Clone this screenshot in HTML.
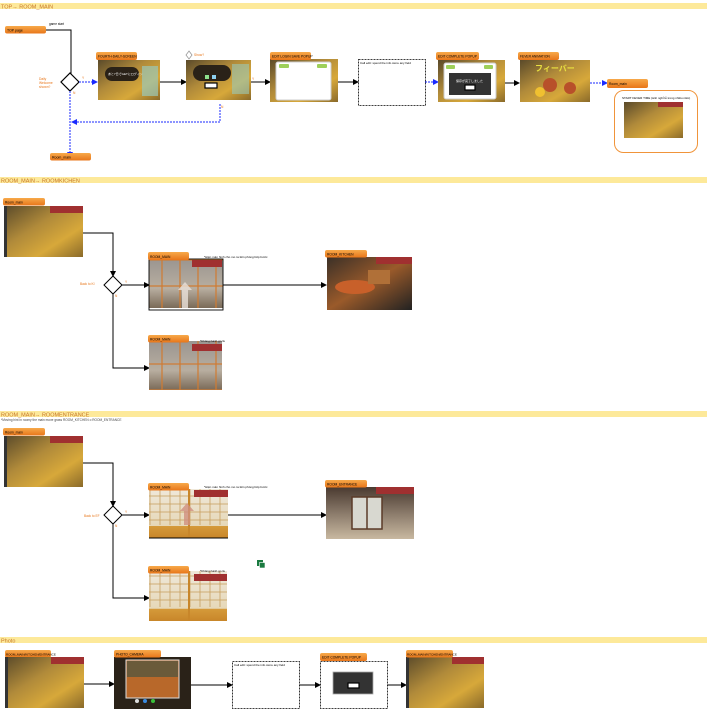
<!DOCTYPE html>
<html><head><meta charset="utf-8"><style>
html,body{margin:0;padding:0;background:#fff;width:707px;height:728px;overflow:hidden}
svg{display:block;font-family:"Liberation Sans","Noto Sans CJK JP",sans-serif}
</style></head><body>
<svg width="707" height="728" viewBox="0 0 707 728" xmlns="http://www.w3.org/2000/svg">
<defs>
<linearGradient id="lbl" x1="0" y1="0" x2="0" y2="1"><stop offset="0" stop-color="#f7a94a"/><stop offset="1" stop-color="#e8761a"/></linearGradient>
<linearGradient id="room" x1="0" y1="0" x2="1" y2="1"><stop offset="0" stop-color="#5a4a2a"/><stop offset="0.4" stop-color="#b08a3a"/><stop offset="0.7" stop-color="#d7a83a"/><stop offset="1" stop-color="#8a6a2a"/></linearGradient>
<linearGradient id="shoji" x1="0" y1="0" x2="0" y2="1"><stop offset="0" stop-color="#9a9590"/><stop offset="0.6" stop-color="#b8aea0"/><stop offset="1" stop-color="#7a6a58"/></linearGradient>
<linearGradient id="kit" x1="0" y1="0" x2="1" y2="1"><stop offset="0" stop-color="#3a3028"/><stop offset="0.5" stop-color="#9a5a2a"/><stop offset="1" stop-color="#222"/></linearGradient>
<linearGradient id="ent" x1="0" y1="0" x2="0" y2="1"><stop offset="0" stop-color="#4a3a30"/><stop offset="0.5" stop-color="#8a7a6a"/><stop offset="1" stop-color="#c8b8a0"/></linearGradient>
<linearGradient id="paper" x1="0" y1="0" x2="0" y2="1"><stop offset="0" stop-color="#efe8da"/><stop offset="0.75" stop-color="#e6d8b8"/><stop offset="0.76" stop-color="#d59a3a"/><stop offset="1" stop-color="#c8862a"/></linearGradient>
<pattern id="grid" width="10" height="8" patternUnits="userSpaceOnUse"><rect width="10" height="8" fill="none" stroke="#c8a060" stroke-width="0.8"/></pattern>
<pattern id="grid2" width="18" height="26" patternUnits="userSpaceOnUse"><rect width="18" height="26" fill="none" stroke="#d07a30" stroke-width="1.2"/></pattern>
<marker id="ab" markerWidth="6" markerHeight="6" refX="5" refY="3" orient="auto"><path d="M0,0L6,3L0,6z" fill="#000"/></marker>
<marker id="au" markerWidth="6" markerHeight="6" refX="5" refY="3" orient="auto"><path d="M0,0L6,3L0,6z" fill="#1a2aff"/></marker>
</defs>
<g font-size="4">
<!-- section bars -->
<rect x="0" y="3" width="707" height="6" fill="#fde99a"/><text x="1" y="8.5" font-size="5.5" fill="#c8782a">TOP→ ROOM_MAIN</text>
<rect x="0" y="177" width="707" height="6" fill="#fde99a"/><text x="1" y="182.5" font-size="5.5" fill="#c8782a">ROOM_MAIN→ ROOMKICHEN</text>
<rect x="0" y="411" width="707" height="6" fill="#fde99a"/><text x="1" y="416.5" font-size="5.5" fill="#c8782a">ROOM_MAIN→ ROOMENTRANCE</text>
<text x="1" y="421" font-size="3.2" fill="#444">*Moving hint in roomy the main move grass ROOM_KITCHEN o ROOM_ENTRANCE</text>
<rect x="0" y="637" width="707" height="6" fill="#fde99a"/><text x="1" y="642.5" font-size="5.5" fill="#c8782a">Photo</text>

<!-- ===== Section 1 ===== -->
<rect x="5" y="26" width="41" height="7.5" rx="2" fill="url(#lbl)"/><text x="7" y="31.5" font-size="3.5">TOP page</text>
<text x="49" y="25" font-size="3.2">game start</text>
<path d="M46,30H71V74" fill="none" stroke="#000" stroke-width="1"/>
<polygon points="70,73 79,82 70,91 61,82" fill="#fff" stroke="#000" stroke-width="1.2"/>
<text x="39" y="80" font-size="3.3" fill="#e8761a">Daily</text><text x="39" y="84" font-size="3.3" fill="#e8761a">Welcome</text><text x="39" y="88" font-size="3.3" fill="#e8761a">shown?</text>
<text x="82" y="79" font-size="3.3" fill="#e8761a">Y</text><text x="73" y="94" font-size="3.3" fill="#e8761a">N</text>
<path d="M79,82H97" stroke="#1a2aff" stroke-dasharray="2,1" marker-end="url(#au)"/>
<path d="M70,91V157" stroke="#1a2aff" stroke-dasharray="2,1" marker-end="url(#au)"/>
<path d="M220,104V122H72" fill="none" stroke="#1a2aff" stroke-dasharray="2,1" marker-end="url(#au)"/>
<text x="221" y="108" font-size="3.3" fill="#e8761a">N</text>
<rect x="50" y="153" width="41" height="7.5" rx="2" fill="url(#lbl)"/><text x="52" y="158.5" font-size="3.5">Room_main</text>

<rect x="98" y="60" width="62" height="40" fill="url(#room)"/>
<rect x="105" y="67" width="34" height="14" rx="7" fill="#2a2218"/><text x="108" y="75" font-size="3" fill="#fff">あと7日でGETにログイン</text>
<rect x="142" y="66" width="16" height="30" fill="#9ac8b8" opacity="0.7"/>
<rect x="96" y="52" width="41" height="8" rx="2" fill="url(#lbl)"/><text x="98" y="57.5" font-size="3.3">FOURTH-DAILY-SCREEN</text>
<path d="M160,82H186" stroke="#000" marker-end="url(#ab)"/>

<rect x="186" y="60" width="65" height="40" fill="url(#room)"/>
<rect x="193" y="65" width="38" height="16" rx="8" fill="#2a2218"/>
<rect x="205" y="75" width="4" height="4" fill="#8de08d"/><rect x="212" y="75" width="4" height="4" fill="#8dd0f0"/>
<rect x="205" y="83" width="12" height="5" fill="#fff" stroke="#000" stroke-width="1.2"/>
<rect x="232" y="64" width="17" height="30" fill="#9ac8b8" opacity="0.6"/>
<polygon points="189,51 192,55 189,59 186,55" fill="#fff" stroke="#999" stroke-width="0.8"/><text x="194" y="56" font-size="3.3" fill="#e8761a">Show?</text>
<text x="252" y="80" font-size="3.3" fill="#e8761a">Y</text>
<path d="M251,82H270" stroke="#000" marker-end="url(#ab)"/>

<rect x="270" y="59" width="68" height="43" fill="url(#room)"/>
<rect x="276" y="62" width="55" height="38" rx="2" fill="#fff" stroke="#ccc"/>
<rect x="279" y="64" width="10" height="4" rx="1" fill="#9ed05a"/><rect x="317" y="64" width="10" height="4" rx="1" fill="#9ed05a"/>
<rect x="270" y="52" width="41" height="8" rx="2" fill="url(#lbl)"/><text x="272" y="57.5" font-size="3.3">EDIT LOGIN SAVE POPUP</text>
<path d="M338,82H358" stroke="#000" marker-end="url(#ab)"/>

<rect x="358.5" y="59.5" width="67" height="46" fill="#fff" stroke="#000" stroke-width="0.8" stroke-dasharray="2,1"/>
<text x="360" y="64" font-size="3">Call edit: spend the info store any field</text>
<path d="M425,82H438" stroke="#1a2aff" stroke-dasharray="2,1" marker-end="url(#au)"/>

<rect x="438" y="60" width="67" height="42" fill="url(#room)"/>
<rect x="444" y="63" width="52" height="36" rx="2" fill="#fff" stroke="#ccc"/>
<rect x="446" y="65" width="9" height="4" rx="1" fill="#9ed05a"/><rect x="484" y="65" width="9" height="4" rx="1" fill="#9ed05a"/>
<rect x="449" y="73" width="42" height="22" fill="#333"/><text x="456" y="82" font-size="3" fill="#fff">保存が完了しました</text>
<rect x="465" y="85" width="10" height="5" fill="#fff" stroke="#000" stroke-width="1.2"/>
<rect x="436" y="52" width="43" height="8" rx="2" fill="url(#lbl)"/><text x="438" y="57.5" font-size="3.3">EDIT COMPLETE POPUP</text>
<path d="M505,83H519" stroke="#000" marker-end="url(#ab)"/>

<rect x="520" y="60" width="70" height="42" fill="url(#room)"/>
<text x="535" y="71" font-size="8" fill="#e8e040" font-weight="bold">フィーバー</text>
<circle cx="550" cy="85" r="7" fill="#b8502a"/><circle cx="570" cy="88" r="6" fill="#b8502a"/><circle cx="540" cy="92" r="5" fill="#f0c030"/>
<rect x="518" y="52" width="41" height="8" rx="2" fill="url(#lbl)"/><text x="520" y="57.5" font-size="3.3">FEVER ANIMATION</text>
<path d="M590,83H607" stroke="#1a2aff" stroke-dasharray="2,1" marker-end="url(#au)"/>
<rect x="607" y="79" width="41" height="9" rx="2" fill="url(#lbl)"/><text x="609" y="85" font-size="3.3">Room_main</text>
<rect x="614.5" y="90.5" width="83" height="62" rx="9" fill="#fff" stroke="#f0943a" stroke-width="1"/>
<text x="622" y="99" font-size="3">START FEVER TIME (ảnh nghỉ lễ trong nhiều năm)</text>
<rect x="624" y="102" width="59" height="36" fill="url(#room)"/><rect x="658" y="102" width="25" height="5" fill="#a03030"/>

<!-- ===== Section 2 ===== -->
<rect x="3" y="198" width="42" height="7.5" rx="2" fill="url(#lbl)"/><text x="5" y="203.5" font-size="3.3">Room_main</text>
<rect x="4" y="206" width="79" height="51" fill="url(#room)"/><rect x="50" y="206" width="33" height="7" fill="#a03030"/><rect x="4" y="206" width="3" height="51" fill="#333"/>
<path d="M83,233H113V276" fill="none" stroke="#000" marker-end="url(#ab)"/>
<polygon points="113,276 122,285 113,294 104,285" fill="#fff" stroke="#000" stroke-width="1"/>
<text x="80" y="285" font-size="3.2" fill="#e8761a">Back to KI</text>
<text x="125" y="283" font-size="3.2" fill="#e8761a">Y</text><text x="115" y="297" font-size="3.2" fill="#e8761a">N</text>
<path d="M122,285H149" stroke="#000" marker-end="url(#ab)"/>
<path d="M113,294V368H149" fill="none" stroke="#000" marker-end="url(#ab)"/>
<rect x="149" y="259" width="74" height="49" fill="url(#shoji)"/><rect x="149" y="259" width="74" height="49" fill="url(#grid2)"/>
<rect x="192" y="260" width="30" height="7" fill="#a03030"/>
<polygon points="185,282 192,290 188,290 188,308 182,308 182,290 178,290" fill="#e8e0d8" opacity="0.8"/>
<rect x="149" y="259" width="74" height="51" fill="none" stroke="#000" stroke-width="0.9"/>
<rect x="148" y="252" width="41" height="8" rx="2" fill="url(#lbl)"/><text x="150" y="258" font-size="3.3">ROOM_MAIN</text>
<text x="204" y="258" font-size="3">*Hiện màn hình cho mo ra tiến phòng bếp bước</text>
<path d="M223,285H326" stroke="#000" marker-end="url(#ab)"/>
<rect x="327" y="257" width="85" height="53" fill="url(#kit)"/><rect x="376" y="257" width="36" height="7" fill="#a03030"/>
<ellipse cx="355" cy="287" rx="20" ry="7" fill="#c8602a"/><rect x="368" y="270" width="22" height="14" fill="#b07038"/>
<rect x="325" y="250" width="42" height="7.5" rx="2" fill="url(#lbl)"/><text x="327" y="255.5" font-size="3.3">ROOM_KITCHEN</text>
<rect x="149" y="341" width="73" height="49" fill="url(#shoji)"/><rect x="149" y="341" width="73" height="49" fill="url(#grid2)"/><rect x="192" y="344" width="30" height="7" fill="#a03030"/>
<rect x="148" y="335" width="41" height="7.5" rx="2" fill="url(#lbl)"/><text x="150" y="340.5" font-size="3.3">ROOM_MAIN</text>
<text x="200" y="342" font-size="3">*Không hành gì cả</text>

<!-- ===== Section 3 ===== -->
<rect x="3" y="428" width="42" height="7.5" rx="2" fill="url(#lbl)"/><text x="5" y="433.5" font-size="3.3">Room_main</text>
<rect x="4" y="436" width="79" height="51" fill="url(#room)"/><rect x="50" y="436" width="33" height="7" fill="#a03030"/><rect x="4" y="436" width="3" height="51" fill="#333"/>
<path d="M83,463H113V506" fill="none" stroke="#000" marker-end="url(#ab)"/>
<polygon points="113,506 122,515 113,524 104,515" fill="#fff" stroke="#000" stroke-width="1"/>
<text x="84" y="517" font-size="3.2" fill="#e8761a">Back to EF</text>
<text x="125" y="513" font-size="3.2" fill="#e8761a">Y</text><text x="115" y="527" font-size="3.2" fill="#e8761a">N</text>
<path d="M122,515H149" stroke="#000" marker-end="url(#ab)"/>
<path d="M113,524V598H149" fill="none" stroke="#000" marker-end="url(#ab)"/>
<rect x="149" y="489" width="79" height="49" fill="url(#paper)"/><rect x="149" y="489" width="79" height="36" fill="url(#grid)"/>
<rect x="188" y="489" width="2" height="49" fill="#c8862a"/><rect x="194" y="490" width="34" height="7" fill="#a03030"/>
<polygon points="187,503 194,511 190,511 190,525 184,525 184,511 180,511" fill="#d09080" opacity="0.8"/>
<path d="M149,538H228" stroke="#000"/>
<rect x="148" y="483" width="41" height="7.5" rx="2" fill="url(#lbl)"/><text x="150" y="488.5" font-size="3.3">ROOM_MAIN</text>
<text x="204" y="488" font-size="3">*Hiện màn hình cho mo ra tiến phòng bếp bước</text>
<path d="M228,515H326" stroke="#000" marker-end="url(#ab)"/>
<rect x="326" y="487" width="88" height="52" fill="url(#ent)"/><rect x="376" y="487" width="38" height="7" fill="#a03030"/>
<rect x="352" y="497" width="30" height="32" fill="#d8d8d0" stroke="#5a3a28" stroke-width="1.5"/><path d="M367,497V529" stroke="#5a3a28" stroke-width="1.5"/>
<rect x="325" y="480" width="42" height="7.5" rx="2" fill="url(#lbl)"/><text x="327" y="485.5" font-size="3.3">ROOM_ENTRANCE</text>
<rect x="149" y="571" width="78" height="50" fill="url(#paper)"/><rect x="149" y="571" width="78" height="36" fill="url(#grid)"/><rect x="188" y="571" width="2" height="50" fill="#c8862a"/><rect x="194" y="574" width="33" height="7" fill="#a03030"/>
<rect x="148" y="566" width="41" height="7.5" rx="2" fill="url(#lbl)"/><text x="150" y="571.5" font-size="3.3">ROOM_MAIN</text>
<text x="200" y="572" font-size="3">*Không hành gì cả</text>
<rect x="257" y="560" width="6" height="6" fill="#1a7a40"/><rect x="259.5" y="562.5" width="5.5" height="5.5" fill="#1a7a40" stroke="#fff" stroke-width="0.6"/>

<!-- ===== Section 4 ===== -->
<rect x="5" y="650" width="46" height="7.5" rx="2" fill="url(#lbl)"/><text x="6" y="655.5" font-size="3">ROOM_MAIN/KITCHEN/ENTRANCE</text>
<rect x="5" y="657" width="79" height="51" fill="url(#room)"/><rect x="51" y="657" width="33" height="7" fill="#a03030"/><rect x="5" y="657" width="3" height="51" fill="#333"/>
<path d="M84,684H114" stroke="#000" marker-end="url(#ab)"/>
<rect x="114" y="657" width="77" height="52" fill="#2a2218"/>
<rect x="126" y="660" width="53" height="38" fill="#b8682a" stroke="#ddd" stroke-width="1"/><rect x="127" y="661" width="51" height="16" fill="#6a5a3a"/>
<circle cx="137" cy="701" r="2" fill="#ddd"/><circle cx="145" cy="701" r="2" fill="#3a8ae0"/><circle cx="153" cy="701" r="2" fill="#3ac03a"/>
<rect x="114" y="650" width="47" height="7.5" rx="2" fill="url(#lbl)"/><text x="116" y="655.5" font-size="3.3">PHOTO_CAMERA</text>
<path d="M191,685H232" stroke="#000" marker-end="url(#ab)"/>
<rect x="232.5" y="661.5" width="67" height="47" fill="#fff" stroke="#000" stroke-width="0.8" stroke-dasharray="2,1"/>
<text x="234" y="666" font-size="3">Call edit: spend the info store any field</text>
<path d="M299,685H320" stroke="#000" marker-end="url(#ab)"/>
<rect x="320.5" y="661.5" width="67" height="47" fill="#fff" stroke="#000" stroke-width="0.8" stroke-dasharray="2,1"/>
<rect x="333" y="672" width="40" height="22" fill="#333" stroke="#aaa" stroke-width="0.8"/><rect x="348" y="683" width="11" height="5" fill="#fff" stroke="#000" stroke-width="1.2"/>
<rect x="320" y="653" width="47" height="8" rx="2" fill="url(#lbl)"/><text x="322" y="658.5" font-size="3.3">EDIT COMPLETE POPUP</text>
<path d="M387,685H406" stroke="#000" marker-end="url(#ab)"/>
<rect x="406" y="657" width="78" height="51" fill="url(#room)"/><rect x="452" y="657" width="32" height="7" fill="#a03030"/><rect x="406" y="657" width="3" height="51" fill="#333"/>
<rect x="406" y="650" width="47" height="7.5" rx="2" fill="url(#lbl)"/><text x="407" y="655.5" font-size="3">ROOM_MAIN/KITCHEN/ENTRANCE</text>
</g>
</svg>
</body></html>
